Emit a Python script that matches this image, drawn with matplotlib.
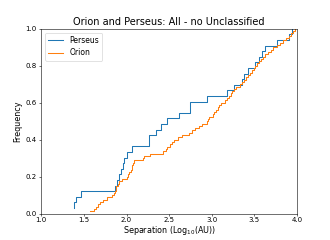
import numpy as np
import matplotlib
matplotlib.use('Agg')
import matplotlib.pyplot as plt

# log10 separations (AU)
perseus_sep = [1.38, 1.38, 1.41, 1.465, 1.87, 1.89, 1.91, 1.94, 1.96, 1.965,
               2.00, 2.06, 2.26, 2.265, 2.35, 2.41, 2.47, 2.62, 2.74, 2.745,
               2.95, 3.18, 3.26, 3.36, 3.38, 3.43, 3.51, 3.56, 3.59, 3.62,
               3.77, 3.91, 3.94]

orion_sep = [1.566, 1.613, 1.64, 1.66, 1.69, 1.73, 1.77, 1.83, 1.85, 1.87,
             1.875, 1.88, 1.895, 1.91, 1.95, 2.00, 2.02, 2.035, 2.05, 2.06,
             2.07, 2.08, 2.09, 2.195, 2.20, 2.27, 2.43, 2.46, 2.48, 2.51,
             2.53, 2.56, 2.60, 2.65, 2.73, 2.77, 2.80, 2.85, 2.88, 2.94,
             2.955, 2.97, 3.01, 3.03, 3.05, 3.07, 3.09, 3.11, 3.15, 3.18,
             3.20, 3.22, 3.24, 3.265, 3.29, 3.33, 3.355, 3.38, 3.40, 3.43,
             3.45, 3.47, 3.49, 3.51, 3.535, 3.56, 3.58, 3.60, 3.63, 3.66,
             3.69, 3.72, 3.76, 3.80, 3.83, 3.87, 3.91, 3.93, 3.95, 3.975]

fig = plt.figure(figsize=(6.6, 4.8), dpi=50)

for sep, name in [(perseus_sep, 'Perseus'), (orion_sep, 'Orion')]:
    x = np.sort(sep)
    y = np.arange(1, len(x) + 1) / len(x)
    plt.step(x, y, where='post', label=name)

plt.xlim(1.0, 4.0)
plt.ylim(0.0, 1.0)
plt.tick_params(axis='x', pad=1.5)
plt.title('Orion and Perseus: All - no Unclassified', fontsize=14)
plt.xlabel('Separation (Log$_{10}$(AU))', fontsize=11.5, labelpad=1)
plt.ylabel('Frequency', fontsize=11.5)
plt.legend(loc='upper left', fontsize=11)

plt.savefig('out.png', dpi=50)
